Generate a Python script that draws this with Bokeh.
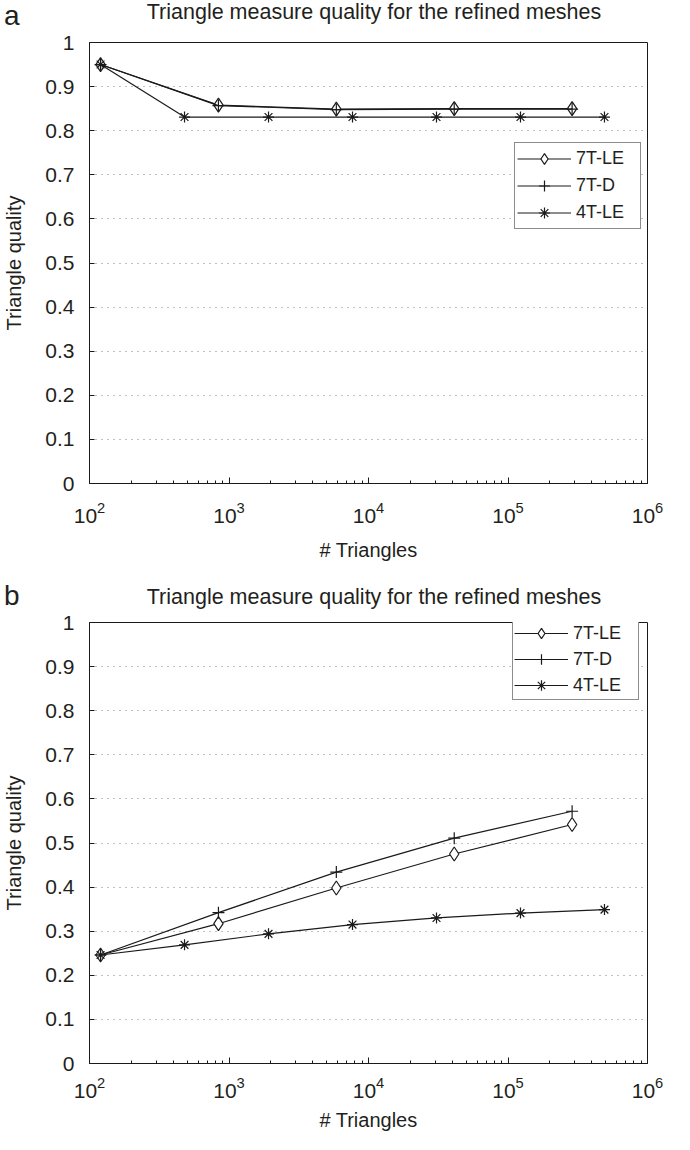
from bokeh.plotting import figure
from bokeh.layouts import column
from bokeh.models import (Range1d, FixedTicker, CustomJSTickFormatter, Div,
                          Legend, LegendItem, LogTickFormatter)
from bokeh.embed import file_html
from bokeh.resources import INLINE

# ---------------- data ----------------
n_7t = [120, 840, 5880, 41160, 288120]
n_4t = [120, 480, 1920, 7680, 30720, 122880, 491520]

# panel a
q_7tle_a = [0.950, 0.858, 0.849, 0.850, 0.850]
q_7td_a = [0.950, 0.857, 0.848, 0.849, 0.849]
q_4tle_a = [0.950, 0.831, 0.831, 0.831, 0.831, 0.831, 0.831]

# panel b
q_7tle_b = [0.246, 0.317, 0.398, 0.475, 0.542]
q_7td_b = [0.246, 0.342, 0.434, 0.511, 0.572]
q_4tle_b = [0.246, 0.269, 0.294, 0.315, 0.330, 0.341, 0.349]

series_names = ["7T-LE", "7T-D", "4T-LE"]
panel_letters = ["a", "b"]
title_text = "Triangle measure quality for the refined meshes"
x_label = "# Triangles"
y_label = "Triangle quality"

x_ticks = [1e2, 1e3, 1e4, 1e5, 1e6]          # shown as 10^2 ... 10^6
x_minor_ticks = [m * 10 ** k for k in range(2, 6) for m in range(2, 10)]
y_ticks = [0, 0.1, 0.2, 0.3, 0.4, 0.5, 0.6, 0.7, 0.8, 0.9, 1]
y_tick_labels = ["0", "0.1", "0.2", "0.3", "0.4", "0.5", "0.6", "0.7", "0.8", "0.9", "1"]

# ---------------- style ----------------
FONT = "Liberation Sans"
TXT = "#231f20"
INK = "#1a1a1a"
W = 674
FRAME_H = 441
LEFT = 89
RIGHT = 27

FMT_CODE = """
const i = vals.indexOf(tick);
return i >= 0 ? labs[i] : String(tick);
"""


def header(letter, height, letter_top, title_top):
    html = (
        f'<div style="position:relative;width:{W}px;height:{height}px;">'
        f'<span style="position:absolute;left:4px;top:{letter_top}px;'
        f"font-family:'{FONT}';font-size:28px;line-height:normal;color:{TXT};"
        f'white-space:nowrap;">{letter}</span>'
        f'<span style="position:absolute;left:374px;top:{title_top}px;'
        f'transform:translateX(-50%);white-space:nowrap;'
        f"font-family:'{FONT}';font-size:21.5px;line-height:normal;color:{TXT};\">"
        f'{title_text}</span></div>'
    )
    return Div(text=html, width=W, height=height, margin=0,
               styles={"overflow": "visible"})


def make_panel(q7le, q7d, q4le, top, bottom, legend_xy, gh, gs, pad,
               lab_w, tick_sd, axis_sd):
    height = top + FRAME_H + bottom
    p = figure(width=W, height=height, x_axis_type="log",
               x_range=Range1d(100, 1e6), y_range=Range1d(0, 1),
               output_backend="svg", toolbar_location=None,
               min_border_left=LEFT, min_border_right=RIGHT,
               min_border_top=top, min_border_bottom=bottom)
    p.background_fill_color = "white"
    p.border_fill_color = "white"
    p.outline_line_color = INK
    p.outline_line_width = 1
    p.outline_line_alpha = 1

    # axes
    p.xaxis.ticker = FixedTicker(ticks=x_ticks, minor_ticks=x_minor_ticks)
    p.xaxis.formatter = LogTickFormatter(min_exponent=0)
    p.yaxis.ticker = FixedTicker(ticks=y_ticks)
    p.yaxis.formatter = CustomJSTickFormatter(
        args=dict(vals=y_ticks, labs=y_tick_labels), code=FMT_CODE)

    for ax in (p.xaxis[0], p.yaxis[0]):
        ax.axis_line_color = INK
        ax.major_tick_line_color = INK
        ax.minor_tick_line_color = INK
        ax.major_tick_out = 0
        ax.minor_tick_out = 0
        ax.major_label_text_font = FONT
        ax.major_label_text_font_size = "21px"
        ax.major_label_text_color = TXT
        ax.axis_label_text_font = FONT
        ax.axis_label_text_font_size = "20px"
        ax.axis_label_text_font_style = "normal"
        ax.axis_label_text_color = TXT
    p.xaxis.major_tick_in = 6
    p.xaxis.minor_tick_in = 3
    p.yaxis.major_tick_in = 5
    p.yaxis.minor_tick_line_color = None
    p.xaxis.major_label_standoff = tick_sd
    p.xaxis.axis_label_standoff = axis_sd
    p.yaxis.major_label_standoff = 15
    p.yaxis.axis_label_standoff = 17
    p.xaxis.axis_label = x_label
    p.yaxis.axis_label = y_label

    # grid
    p.xgrid.grid_line_color = None
    p.ygrid.grid_line_color = "#808080"
    p.ygrid.grid_line_dash = "1 5"
    p.ygrid.grid_line_width = 1

    # series
    l1 = p.line(n_7t, q7le, line_color=INK, line_width=1.2)
    s1 = p.scatter(n_7t, q7le, marker="diamond", size=14, fill_color="white",
                   line_color=INK, line_width=1.2)
    l2 = p.line(n_7t, q7d, line_color=INK, line_width=1.2)
    s2 = p.scatter(n_7t, q7d, marker="cross", size=12,
                   line_color=INK, line_width=1.2)
    l3 = p.line(n_4t, q4le, line_color=INK, line_width=1.2)
    s3 = p.scatter(n_4t, q4le, marker="asterisk", size=11,
                   line_color=INK, line_width=1.2)

    legend = Legend(items=[
        LegendItem(label=series_names[0], renderers=[l1, s1]),
        LegendItem(label=series_names[1], renderers=[l2, s2]),
        LegendItem(label=series_names[2], renderers=[l3, s3]),
    ], location=legend_xy)
    legend.border_line_color = INK
    legend.border_line_width = 1.5
    legend.background_fill_color = "white"
    legend.background_fill_alpha = 1
    legend.label_text_font = FONT
    legend.label_text_font_size = "18px"
    legend.label_text_color = TXT
    legend.glyph_width = 54
    legend.glyph_height = gh
    legend.label_height = gh
    legend.label_width = lab_w
    legend.label_standoff = 5
    legend.spacing = gs
    legend.padding = pad
    legend.margin = 0
    p.add_layout(legend, "center")
    return p


h1 = header(panel_letters[0], 30, 0, 0)
p1 = make_panel(q_7tle_a, q_7td_a, q_4tle_a, 12, 97, (425, 254), 27, -6, 2, 62, 18, 13)
h2 = header(panel_letters[1], 30, 0, 5)
p2 = make_panel(q_7tle_b, q_7td_b, q_4tle_b, 12, 71, (423, 363), 26, -6, 1, 64, 13, 8)

layout = column(h1, p1, h2, p2)
open("out.html", "w").write(file_html(layout, INLINE))
